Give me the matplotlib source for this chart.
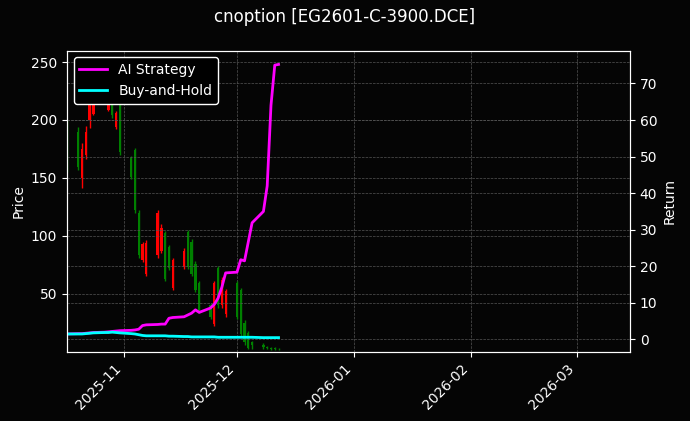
import numpy as np
import pandas as pd
import matplotlib
matplotlib.use('Agg')
import matplotlib.pyplot as plt
import matplotlib.dates as mdates

# candles (trading days)
dates = pd.to_datetime([
    '2025-10-17', '2025-10-20', '2025-10-21', '2025-10-22', '2025-10-23', '2025-10-24',
    '2025-10-27', '2025-10-28', '2025-10-29', '2025-10-30', '2025-10-31',
    '2025-11-03', '2025-11-04', '2025-11-05', '2025-11-06', '2025-11-07',
    '2025-11-10', '2025-11-11', '2025-11-12', '2025-11-13', '2025-11-14',
    '2025-11-17', '2025-11-18', '2025-11-19', '2025-11-20', '2025-11-21',
    '2025-11-24', '2025-11-25', '2025-11-26', '2025-11-27', '2025-11-28',
    '2025-12-01', '2025-12-02', '2025-12-03', '2025-12-04', '2025-12-05',
    '2025-12-08', '2025-12-09', '2025-12-10', '2025-12-11', '2025-12-12'])
opens  = [196, 190, 150, 170, 200, 205, 220, 209, 216, 194, 224, 167, 174, 120, 79, 67,
          83, 87, 102, 90, 55, 73, 103, 95, 76, 59, 40, 24, 72, 40, 32, 59, 53, 25, 16, 8, 6, 4, 3, 3, 2.5]
closes = [158, 159, 175, 190, 230, 218, 232, 226, 204, 206, 172, 151, 122, 83, 93, 94,
          120, 107, 63, 72, 79, 87, 73, 67, 53, 35, 30, 59, 40, 62, 52, 30, 15, 8, 3, 6, 4, 3, 2.5, 2.5, 2]
highs  = [200, 194, 180, 195, 236, 222, 236, 230, 218, 208, 226, 169, 176, 122, 95, 96,
          122, 110, 104, 92, 81, 89, 105, 97, 78, 61, 42, 61, 74, 64, 54, 61, 55, 27, 18, 9, 7, 5, 4, 3.5, 3]
lows   = [155, 157, 141, 166, 193, 204, 218, 208, 202, 192, 170, 149, 120, 81, 77, 65,
          81, 85, 61, 70, 53, 71, 71, 65, 51, 33, 28, 22, 38, 38, 30, 28, 13, 6, 2, 2, 2, 2, 1.5, 1.5, 1.5]

ai_ret = [1.5, 1.6, 1.6, 1.7, 1.8, 1.9, 2.0, 2.1, 2.2, 2.3, 2.4, 2.5, 2.6, 2.8, 3.8, 4.0,
          4.1, 4.2, 4.2, 5.8, 6.0, 6.2, 6.7, 7.2, 8.1, 7.4, 8.6, 9.6, 11.3, 14.3, 18.2,
          18.4, 21.8, 21.5, 26.7, 31.9, 35.0, 42.0, 64.0, 75.0, 75.2]
bh_ret = [1.5, 1.5, 1.5, 1.6, 1.7, 1.8, 1.9, 1.9, 2.0, 1.9, 1.8, 1.6, 1.5, 1.3, 1.1, 1.0,
          1.0, 1.0, 1.0, 0.9, 0.9, 0.8, 0.8, 0.7, 0.7, 0.7, 0.7, 0.7, 0.6, 0.6, 0.6,
          0.6, 0.6, 0.6, 0.6, 0.6, 0.5, 0.5, 0.5, 0.5, 0.5]

bg = '#050505'
fig, ax = plt.subplots(figsize=(6.9, 4.21), dpi=100)
fig.patch.set_facecolor(bg)
ax.set_facecolor(bg)

x = mdates.date2num(dates)
for xi, o, h, l, c in zip(x, opens, highs, lows, closes):
    col = 'red' if c >= o else 'green'
    ax.vlines(xi, l, h, color=col, linewidth=1)
    ax.bar(xi, abs(c - o) or 0.3, bottom=min(o, c), width=0.6, color=col)

ax.set_ylim(0, 260)
ax.set_yticks([50, 100, 150, 200, 250])
ax.set_ylabel('Price', color='white')
ax.grid(True, color='#555555', linestyle='--', linewidth=0.5)

ax2 = ax.twinx()
ax2.plot(dates, ai_ret, color='magenta', linewidth=2, label='AI Strategy')
ax2.plot(dates, bh_ret, color='cyan', linewidth=2, label='Buy-and-Hold')
ax2.set_ylim(-3.3, 79)
ax2.set_yticks(range(0, 80, 10))
ax2.set_ylabel('Return', color='white')
ax2.grid(True, color='#555555', linestyle='--', linewidth=0.5)

ax.set_xlim(mdates.date2num(pd.Timestamp('2025-10-17')), mdates.date2num(pd.Timestamp('2026-03-15')))
ax.xaxis.set_major_locator(mdates.MonthLocator())
ax.xaxis.set_major_formatter(mdates.DateFormatter('%Y-%m'))
plt.setp(ax.get_xticklabels(), rotation=45, ha='right')

for a in (ax, ax2):
    a.tick_params(colors='white')
    for s in a.spines.values():
        s.set_color('white')

leg = ax2.legend(loc='upper left', facecolor='black', edgecolor='white', framealpha=1)
for t in leg.get_texts():
    t.set_color('white')

fig.suptitle('cnoption [EG2601-C-3900.DCE]', color='white', fontsize=12)
fig.subplots_adjust(left=0.097, right=0.913, top=0.88, bottom=0.165)
fig.savefig('out.png', facecolor=bg)
